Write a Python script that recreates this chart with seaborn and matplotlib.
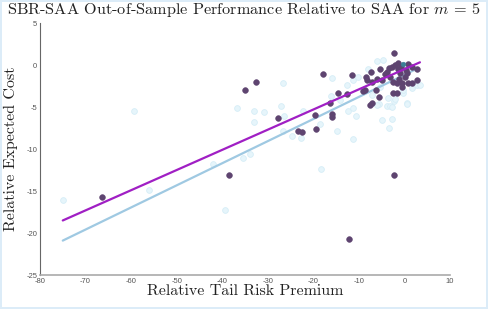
import matplotlib
matplotlib.use("Agg")
import matplotlib.pyplot as plt
import numpy as np
import pandas as pd
import seaborn as sns

# ------------------------------------------------------------------------------
# Data
# ------------------------------------------------------------------------------
light_x = [-74.9, -56.0, -59.4, -42.1, -39.4, -36.8, -35.5, -34.0, -33.0, -33.0,
           -30.8, -27.0, -26.4, -26.7, -26.7, -24.7, -22.6, -22.3, -18.5, -18.4,
           -16.0, -16.2, -14.9, -14.2, -12.7, -12.3, -11.4, -11.2, -11.4, -10.6,
           -10.1, -7.9, -7.2, -6.1, -5.5, -5.4, -4.8, -3.9, -3.7, -3.2,
           -2.8, -2.8, -3.4, -2.2, -2.1, -0.3, 0.5, 0.6, 1.6, 2.8,
           3.4, -6.1, -5.0, -0.3]
light_y = [-16.1, -14.9, -5.4, -11.8, -17.2, -5.1, -11.1, -10.6, -5.5, -6.8,
           -5.6, -4.8, -6.05, -7.8, -2.15, -8.4, -8.7, -5.45, -7.0, -12.4,
           -1.5, -3.7, -7.8, -4.2, -2.3, -5.4, -8.8, -1.8, -5.1, -6.05,
           -1.4, -0.4, -3.55, 0.55, -4.6, -2.55, 0.6, -4.9, -3.9, -4.9,
           -5.0, -6.4, -7.5, -4.3, -4.05, -3.35, -4.5, -4.6, -2.75, -2.35,
           -2.4, -4.7, -6.5, -2.9]

dark_x = [-66.5, -38.5, -34.9, -32.6, -27.8, -23.4, -22.4, -19.7, -19.35, -17.8,
          -16.35, -15.8, -16.0, -14.6, -12.55, -12.1, -11.6, -2.4, -2.2, -9.2,
          -8.7, -8.4, -8.3, -7.4, -7.05, -7.57, -7.2, -6.25, -5.5, -5.4,
          -4.87, -3.9, -3.18, -2.8, -2.45, -2.45, -2.08, -1.7, -1.7, -1.35,
          -1.0, -0.6, -0.47, 0.1, 0.84, 0.84, 1.58, 1.58, 2.68, 2.8,
          -1.5, -0.8, 0.3, -3.5, -4.2, -6.0, -1.2, 0.5]
dark_y = [-15.7, -13.1, -3.0, -2.0, -6.3, -7.8, -7.9, -5.9, -7.6, -1.0,
          -4.5, -5.8, -6.2, -3.3, -3.4, -20.7, -1.2, 1.5, -13.1, -3.1,
          -2.9, -1.4, -1.8, -0.8, -2.0, -4.7, -4.5, -2.9, -3.75, -0.45,
          -1.76, -0.77, -1.36, -0.17, -1.96, -3.27, 0.03, -2.15, -3.27, 0.23,
          -0.96, -2.15, -2.63, -1.36, 0.15, -2.08, -0.17, -2.08, -1.76, -0.48,
          -0.5, -0.2, -0.6, -0.3, -1.1, -1.6, -1.6, -0.9]

highlight_x = [-0.3]
highlight_y = [0.2]

fit_purple_x = [-75.0, 3.4]
fit_purple_y = [-18.5, 0.35]
fit_blue_x = [-75.0, 3.0]
fit_blue_y = [-20.9, -0.35]

x_ticks = [-80, -70, -60, -50, -40, -30, -20, -10, 0, 10]
y_ticks = [5, 0, -5, -10, -15, -20, -25]

# ------------------------------------------------------------------------------
# Style
# ------------------------------------------------------------------------------
sns.set_style("white")
plt.rcParams["font.family"] = ["Liberation Sans", "DejaVu Sans"]
plt.rcParams["mathtext.fontset"] = "cm"
plt.rcParams["axes.unicode_minus"] = False

light_df = pd.DataFrame({"x": light_x, "y": light_y})
dark_df = pd.DataFrame({"x": dark_x, "y": dark_y})
purple_df = pd.DataFrame({"x": fit_purple_x, "y": fit_purple_y})
blue_df = pd.DataFrame({"x": fit_blue_x, "y": fit_blue_y})

fig = plt.figure(figsize=(4.88, 3.09), dpi=100)
fig.patch.set_edgecolor("#dcecf8")
fig.patch.set_linewidth(1.5)
ax = fig.add_axes([40 / 488, 1 - 275 / 309, 410 / 488, 251.7 / 309])

sns.scatterplot(data=light_df, x="x", y="y", ax=ax, s=17, color="#e6f5fb",
                edgecolor="#d6edf7", linewidth=0.6, zorder=2)
sns.lineplot(data=blue_df, x="x", y="y", ax=ax, color="#9fc9e2", linewidth=1.6,
             zorder=3)
sns.scatterplot(data=dark_df, x="x", y="y", ax=ax, s=17, color="#5e4470",
                edgecolor="#5e4470", linewidth=0.4, zorder=4)
sns.scatterplot(x=highlight_x, y=highlight_y, ax=ax, s=12, color="#3a7f96",
                edgecolor="#3a7f96", zorder=5)
sns.lineplot(data=purple_df, x="x", y="y", ax=ax, color="#a01fc4", linewidth=1.6,
             zorder=6)

ax.set_xlim(-80, 10)
ax.set_ylim(-25, 5)
ax.set_xticks(x_ticks)
ax.set_yticks(y_ticks)
ax.tick_params(axis="both", direction="in", length=3, width=0.8, labelsize=5.5,
               colors="#555555", pad=2)
for side in ["top", "right"]:
    ax.spines[side].set_visible(False)
ax.spines["left"].set_color("#666666")
ax.spines["left"].set_linewidth(0.8)
ax.spines["bottom"].set_color("#aaaaaa")
ax.spines["bottom"].set_linewidth(1.2)

fig.text(0.5, 1 - 10 / 309, "SBR-SAA Out-of-Sample Performance Relative to SAA for $m\\,=\\,5$",
         family="cmr10", fontsize=11.7, color="#222222", ha="center", va="center")
ax.set_xlabel("Relative Tail Risk Premium", family="cmr10", fontsize=11.5,
              labelpad=0, color="#222222")
ax.set_ylabel("Relative Expected Cost", family="cmr10", fontsize=11.5,
              labelpad=6, color="#222222")

fig.savefig("out.png", dpi=100)
plt.close(fig)
